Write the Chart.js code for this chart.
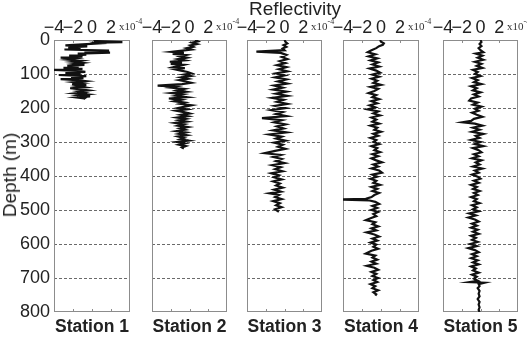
<!DOCTYPE html>
<html>
<head>
<meta charset="utf-8">
<script src="https://cdn.jsdelivr.net/npm/chart.js@4.4.0/dist/chart.umd.min.js"></script>
<style>
  body { margin: 0; background: #fff; }
  #wrap { position: relative; width: 527px; height: 337px; overflow: hidden;
          font-family: "Liberation Sans", Arial, sans-serif; color: #222; }
  canvas { position: absolute; left: 0; top: 0; }
  .lbl { position: absolute; white-space: nowrap; line-height: 20px; }
  .exp { position: absolute; white-space: nowrap; font-family: "Liberation Serif", serif;
         font-size: 11px; line-height: 12px; color: #333; }
  .exp sup { font-size: 8px; position: relative; top: -1px; }
</style>
</head>
<body>
<div id="wrap">
  <canvas id="st1" width="527" height="337"></canvas>
  <canvas id="st2" width="527" height="337"></canvas>
  <canvas id="st3" width="527" height="337"></canvas>
  <canvas id="st4" width="527" height="337"></canvas>
  <canvas id="st5" width="527" height="337"></canvas>
</div>
<script>
// reflectivity in units of 1e-4, depth in m
const depth1 = [0, 3, 6, 8, 10, 13, 16, 19, 22, 25, 28, 31, 34, 37, 40, 43, 46, 49, 52, 55, 58, 61, 64, 67, 70, 73, 76, 79, 82, 85, 88, 91, 94, 97, 100, 103, 106, 109, 112, 115, 118, 121, 124, 127, 130, 133, 136, 139, 142, 145, 148, 151, 154, 157, 160, 163, 166, 169, 172, 174];
const refl1 = [0.2, 0.3, 3.2, 0.5, 0.8, -1.0, -2.8, -0.5, -2.5, -1.2, -2.9, 1.8, -0.8, 1.9, -1.5, -0.6, -2.4, -1.0, -3.3, -1.8, -2.5, -1.2, -2.0, -1.0, -1.8, -0.8, -2.6, -1.4, -3.0, -1.0, -4.0, -1.5, -0.7, -2.8, -1.2, -3.5, -0.6, -2.2, -0.9, -3.3, -1.6, -0.7, -1.9, -1.1, -2.1, -0.6, -1.5, -0.8, -2.3, -1.2, -0.4, -1.4, -0.9, -1.8, -0.5, -1.3, -0.2, -1.6, -0.8, -0.9];

const depth2 = [0, 4, 8, 12, 16, 20, 24, 28, 32, 35, 38, 41, 44, 48, 52, 56, 60, 64, 67, 70, 73, 77, 80, 83, 86, 90, 94, 98, 102, 106, 110, 114, 118, 122, 126, 130, 134, 137, 140, 144, 148, 152, 156, 160, 164, 168, 172, 176, 180, 184, 188, 192, 196, 200, 204, 208, 212, 216, 220, 224, 228, 232, 236, 240, 244, 248, 252, 256, 260, 264, 268, 272, 276, 280, 284, 288, 292, 296, 300, 304, 308, 312, 316, 319];
const refl2 = [0.6, 0.9, 0.3, 0.8, 0.1, 0.4, -0.3, 0.2, -1.0, -1.9, -0.6, -1.8, -0.4, -1.0, -0.3, -1.2, -0.5, -2.1, -0.8, -2.0, -0.6, -1.2, -1.7, -0.5, -1.6, -0.9, -0.2, 0.2, -0.6, 0.1, -0.9, -0.2, -1.1, -0.4, 0.2, -0.8, -3.4, -1.5, -2.0, -0.6, -1.3, -0.4, -1.9, -0.7, -1.4, -0.3, -2.2, -0.9, -1.6, -0.5, -1.0, 0.2, -0.5, -1.2, -0.3, -1.4, -0.6, 0.0, -0.9, -0.2, -1.3, -0.4, -1.1, -0.3, -1.5, -0.6, -1.2, -0.2, -1.0, -0.5, -1.4, -0.4, -1.1, -0.3, -1.2, -0.6, -1.0, -0.1, -1.3, -0.5, -1.1, -0.4, -0.8, -0.6];

const depth3 = [0, 5, 10, 15, 20, 25, 30, 34, 38, 44, 50, 56, 62, 68, 74, 80, 86, 92, 98, 104, 110, 116, 122, 128, 134, 140, 146, 152, 158, 164, 170, 176, 182, 188, 194, 200, 206, 212, 218, 224, 230, 236, 242, 248, 254, 260, 266, 272, 278, 284, 290, 296, 302, 308, 314, 320, 326, 333, 338, 344, 350, 356, 362, 368, 374, 380, 386, 392, 398, 404, 410, 416, 422, 428, 434, 440, 446, 451, 456, 462, 468, 474, 480, 486, 492, 498, 505];
const refl3 = [0.0, 0.1, 0.3, -0.1, 0.2, -0.2, 0.0, -3.0, -0.4, 0.2, -0.3, 0.3, -0.5, 0.1, -0.8, 0.2, -0.6, 0.3, -0.9, 0.0, -1.0, 0.2, -0.7, 0.3, -1.1, -0.2, -1.2, 0.2, -0.9, 0.3, -1.3, -0.1, -0.8, 0.3, -1.0, 0.1, -1.4, -0.2, -0.9, 0.2, -2.4, -0.3, -1.1, 0.1, -0.8, -0.1, -1.2, 0.2, -1.6, -0.3, -0.9, 0.1, -1.1, -0.2, -0.7, 0.1, -1.0, -2.1, -0.4, -1.2, -0.3, -0.9, 0.0, -1.3, -0.4, -1.0, -0.2, -1.4, -0.6, -1.1, -0.3, -1.2, -0.5, -0.9, -0.2, -1.1, -0.4, -1.6, -0.6, -1.0, -0.3, -1.2, -0.5, -0.9, -0.3, -1.0, -0.6];

const depth4 = [0, 5, 10, 14, 18, 24, 30, 36, 42, 48, 54, 60, 66, 72, 78, 84, 90, 96, 102, 108, 114, 120, 126, 132, 138, 144, 150, 156, 162, 168, 174, 180, 186, 192, 198, 204, 210, 216, 222, 228, 234, 240, 246, 252, 258, 264, 270, 276, 282, 288, 294, 300, 306, 312, 318, 324, 330, 336, 342, 348, 354, 360, 366, 372, 378, 384, 390, 396, 402, 408, 414, 420, 426, 432, 438, 444, 450, 456, 462, 467, 469, 472, 476, 482, 488, 494, 500, 506, 512, 518, 524, 530, 536, 542, 548, 554, 560, 566, 572, 578, 584, 590, 596, 602, 608, 614, 620, 628, 634, 640, 646, 652, 658, 664, 670, 676, 682, 688, 694, 700, 706, 712, 718, 724, 730, 736, 742, 748, 752];
const refl4 = [-0.1, 0.0, 0.3, 0.2, -0.2, -0.5, -1.0, -1.4, -0.6, -1.3, -0.4, -1.1, -0.3, -0.9, -0.2, -1.2, -0.5, -0.1, -0.9, -0.2, -1.0, -0.4, -0.8, 0.0, -1.1, -0.3, -0.7, -1.3, -0.5, -0.9, -0.2, -1.0, -0.4, -1.2, -0.6, -1.4, -0.3, -0.8, -0.1, -1.0, -0.5, -0.9, -0.2, -1.1, -0.4, -0.7, 0.0, -0.8, -0.3, -1.1, -0.5, -0.8, -0.2, -1.0, -0.4, -0.7, -0.1, -0.9, -0.3, -1.0, -0.5, 0.1, -0.8, -0.3, -1.0, -0.2, 0.1, -0.9, -0.4, -1.1, -0.5, -0.8, -0.1, -1.0, -0.4, -0.9, -0.2, -0.7, -1.0, -1.6, -4.3, -1.2, -0.6, -0.2, -0.9, -0.4, -1.0, -0.3, -0.8, -0.5, -1.1, -1.6, -0.6, -0.9, -0.3, -1.0, -0.5, -1.5, -0.7, -0.2, -0.9, -0.4, -1.1, -0.5, -0.8, -0.3, -1.0, -1.6, -0.6, -0.9, -0.4, -1.0, -0.5, -1.5, -0.7, -0.3, -1.0, -0.5, -0.9, -0.3, -0.8, -0.4, -1.1, -0.6, -0.9, -0.3, -0.8, -0.5, -0.6];

const depth5 = [0, 6, 12, 18, 24, 30, 36, 40, 46, 52, 58, 64, 70, 76, 82, 88, 94, 100, 106, 112, 118, 124, 130, 136, 142, 148, 154, 160, 166, 172, 178, 184, 190, 196, 202, 208, 214, 220, 226, 232, 238, 242, 246, 252, 258, 264, 270, 276, 282, 288, 294, 300, 306, 312, 318, 324, 330, 336, 342, 348, 354, 360, 366, 372, 378, 384, 390, 396, 402, 408, 414, 420, 426, 432, 438, 444, 450, 456, 462, 468, 474, 480, 486, 492, 498, 504, 510, 516, 522, 528, 534, 540, 546, 552, 558, 564, 570, 576, 582, 588, 594, 600, 606, 612, 618, 624, 630, 636, 642, 648, 654, 660, 666, 672, 678, 684, 690, 696, 702, 708, 712, 714, 718, 724, 730, 738, 746, 754, 762, 770, 778, 786, 794, 800];
const refl5 = [0.0, 0.1, -0.1, 0.1, -0.2, 0.0, 0.3, -0.5, 0.2, -0.3, 0.3, -0.6, 0.1, -0.4, 0.2, -0.8, -0.3, -0.6, 0.0, -0.9, -0.3, -0.7, 0.1, -1.0, -0.4, -0.8, 0.0, -0.7, -0.2, -1.0, -1.2, -0.3, -0.8, 0.1, -0.6, -0.2, -0.9, -0.4, 0.2, -0.7, -1.0, -1.9, -0.6, 0.2, -0.8, -0.1, -0.9, 0.3, -0.5, -0.1, -1.0, 0.0, -0.6, 0.3, -0.8, -0.2, 0.1, -0.7, -0.2, -0.9, 0.1, -0.5, -0.1, -0.8, 0.2, -0.6, -0.2, -0.9, -0.3, 0.0, -0.7, -0.2, -1.0, -0.4, -0.8, -0.1, -0.7, -0.3, -1.0, -0.4, -0.7, -0.1, -0.9, -0.4, -0.8, -0.2, -1.2, -0.5, -1.3, -0.6, -0.2, -0.9, -0.4, -1.0, -0.3, -0.8, -0.2, -1.0, -0.5, -0.9, -0.3, -1.1, -0.4, -1.3, -0.6, -0.2, -0.9, -0.4, -1.0, -0.3, -0.8, -0.2, -1.0, -0.5, -0.8, -0.2, -0.9, -0.4, -0.7, -0.3, -1.2, 0.4, -0.2, -0.1, -0.3, -0.1, -0.2, -0.1, -0.3, -0.1, -0.2, -0.1, -0.2, -0.1];

const stations = ['Station 1', 'Station 2', 'Station 3', 'Station 4', 'Station 5'];
const depthTicks = [0, 100, 200, 300, 400, 500, 600, 700, 800];
const reflTicks = [-4, -2, 0, 2];

// panel boxes (pixels) in the 527x337 picture
const panelLeft = [54, 152, 247, 343, 443];
const panelRight = [130, 227, 322, 419, 518];
const panelTop = 40, panelBottom = 312;

const FONT = '"Liberation Sans", Arial, sans-serif';
const series = [[depth1, refl1], [depth2, refl2], [depth3, refl3], [depth4, refl4], [depth5, refl5]];

// frame + small inward x ticks, like the matlab box
const boxPlugin = {
  id: 'box',
  beforeDatasetsDraw(chart) {
    const a = chart.chartArea, ctx = chart.ctx, xs = chart.scales.x;
    ctx.save();
    ctx.strokeStyle = '#8c8c8c';
    ctx.lineWidth = 1;
    ctx.strokeRect(Math.round(a.left) + 0.5, Math.round(a.top) + 0.5,
                   Math.round(a.right - a.left) - 1, Math.round(a.bottom - a.top) - 1);
    ctx.beginPath();
    [-2, 0, 2].forEach(v => {
      const px = Math.round(xs.getPixelForValue(v)) + 0.5;
      ctx.moveTo(px, a.top); ctx.lineTo(px, a.top + 3);
      ctx.moveTo(px, a.bottom); ctx.lineTo(px, a.bottom - 3);
    });
    ctx.stroke();
    ctx.restore();
  }
};

series.forEach((s, i) => {
  const [dep, val] = s;
  new Chart(document.getElementById('st' + (i + 1)), {
    type: 'scatter',
    data: {
      datasets: [{
        label: stations[i],
        data: dep.map((d, k) => ({ x: val[k], y: d })),
        showLine: true,
        borderColor: '#111',
        borderWidth: 2.2,
        pointRadius: 0,
        tension: 0
      }]
    },
    options: {
      responsive: false,
      animation: false,
      layout: { padding: { left: panelLeft[i] - 40, right: 527 - panelRight[i], top: panelTop - 30, bottom: 337 - panelBottom } },
      plugins: { legend: { display: false }, tooltip: { enabled: false } },
      scales: {
        x: {
          type: 'linear', position: 'top', min: -4, max: 4,
          afterFit(sc) { sc.height = 30; },
          afterBuildTicks(sc) { sc.ticks = reflTicks.map(v => ({ value: v })); },
          ticks: {
            autoSkip: false, maxRotation: 0, minRotation: 0, padding: 1, color: '#222',
            font: { family: FONT, size: 18 },
            callback: v => (v < 0 ? '\u2212' + (-v) : String(v))
          },
          grid: { display: false, drawTicks: false },
          border: { display: false }
        },
        y: {
          type: 'linear', reverse: true, min: 0, max: 800,
          afterFit(sc) { sc.width = 40; },
          afterBuildTicks(sc) { sc.ticks = depthTicks.map(v => ({ value: v })); },
          ticks: { display: i === 0, padding: 4, color: '#222', font: { family: FONT, size: 18 } },
          grid: {
            drawTicks: false, lineWidth: 1,
            color: c => (c.tick && (c.tick.value === 0 || c.tick.value === 800)) ? 'rgba(0,0,0,0)' : '#6a6a6a'
          },
          border: { display: false, dash: [3, 2] }
        }
      }
    },
    plugins: [boxPlugin]
  });
});

// figure texts
const wrap = document.getElementById('wrap');
function addLabel(text, css, cls) {
  const d = document.createElement('div');
  d.className = cls || 'lbl';
  d.innerHTML = text;
  Object.assign(d.style, css);
  wrap.appendChild(d);
}
addLabel('Reflectivity', { left: '295px', top: '-1px', fontSize: '19px', transform: 'translateX(-50%)' });
addLabel('Depth (m)', { left: '10px', top: '175px', fontSize: '19px', transform: 'translate(-50%,-50%) rotate(-90deg)' });
stations.forEach((name, i) => {
  const cx = (panelLeft[i] + panelRight[i]) / 2;
  addLabel(name, { left: cx + 'px', top: '316px', fontSize: '17.5px', fontWeight: 'bold', transform: 'translateX(-50%)' });
  addLabel('x10<sup>-4</sup>', { left: (panelRight[i] - 11) + 'px', top: '17px' }, 'exp');
});
</script>
</body>
</html>
